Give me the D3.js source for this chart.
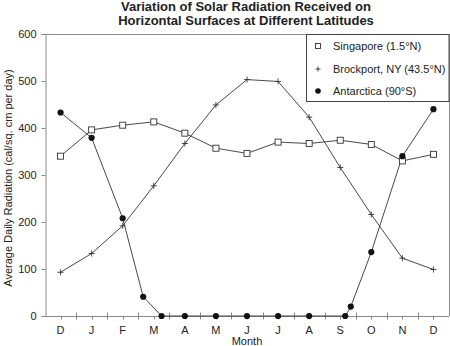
<!DOCTYPE html>
<html><head><meta charset="utf-8">
<script src="https://cdn.jsdelivr.net/npm/d3@7"></script>
<style>body{margin:0;background:#fff}svg{display:block}text{font-family:"Liberation Sans",Arial,sans-serif}</style>
</head><body><svg id="c" width="450" height="346"></svg>
<script>
const months = ["D","J","F","M","A","M","J","J","A","S","O","N","D"];
const yTicks = [0,100,200,300,400,500,600];
const singapore = [340,396,406,413,389,357,346,370,367,374,365,330,344];
const brockport = [93,133,192,277,367,449,503,499,423,316,216,123,99];
const antarcticaX = [0,1,2,2.66,3.25,4,5,6,7,8,9.16,9.34,10,11,12];
const antarcticaY = [433,379,208,41,0,0,0,0,0,0,0,20,136,340,440];
const seriesNames = ["Singapore (1.5°N)","Brockport, NY (43.5°N)","Antarctica (90°S)"];

const svg = d3.select("#c");
const L=45, R=449, T=34, B=316;
const x = d3.scaleLinear().domain([-0.5,12.5]).range([L,R]);
const y = d3.scaleLinear().domain([0,600]).range([B,T]);
const axisCol="#8a8a8a", ink="#333", txt="#222";

// title
svg.append("text").attr("x",246).attr("y",10.5).attr("text-anchor","middle")
  .attr("font-size",13).attr("font-weight","bold").attr("fill",txt)
  .text("Variation of Solar Radiation Received on");
svg.append("text").attr("x",246).attr("y",24.5).attr("text-anchor","middle")
  .attr("font-size",13).attr("font-weight","bold").attr("fill",txt)
  .text("Horizontal Surfaces at Different Latitudes");

// frame top/right
svg.append("path").attr("d",`M${L},${T+0.5}H${R+0.5}V${B}`).attr("fill","none").attr("stroke",axisCol).attr("stroke-width",1);

// y axis
const ya = d3.axisLeft(y).tickValues(yTicks).tickSize(4).tickPadding(5);
const gy = svg.append("g").attr("transform",`translate(${L+0.5},0)`).call(ya);
gy.select(".domain").attr("stroke",axisCol);
gy.selectAll(".tick line").attr("stroke",axisCol);
gy.selectAll(".tick text").attr("font-size",11).attr("fill",txt).style("font-family","Liberation Sans, Arial, sans-serif");

// x axis
const gx = svg.append("g").attr("transform",`translate(0,${B+0.5})`);
gx.append("line").attr("x1",L).attr("x2",R).attr("stroke",axisCol);
const bounds = d3.range(0.5,12,1);
gx.selectAll(".bt").data(bounds).join("line").attr("class","bt")
  .attr("x1",d=>Math.round(x(d))+0.5).attr("x2",d=>Math.round(x(d))+0.5).attr("y1",-4).attr("y2",3).attr("stroke",axisCol);
gx.selectAll(".mt").data(months).join("line").attr("class","mt")
  .attr("x1",(d,i)=>Math.round(x(i))+0.5).attr("x2",(d,i)=>Math.round(x(i))+0.5).attr("y1",0).attr("y2",3).attr("stroke",axisCol);
gx.selectAll(".ml").data(months).join("text").attr("class","ml")
  .attr("x",(d,i)=>x(i)).attr("y",17.5).attr("text-anchor","middle").attr("font-size",11).attr("fill",txt).text(d=>d);

// axis titles
svg.append("text").attr("x",247).attr("y",345).attr("text-anchor","middle").attr("font-size",11).attr("fill",txt).text("Month");
svg.append("text").attr("transform","translate(12,178) rotate(-90)").attr("text-anchor","middle").attr("font-size",11).attr("fill",txt)
  .text("Average Daily Radiation (cal/sq. cm per day)");

// lines
const line = d3.line().x(d=>x(d[0])).y(d=>y(d[1]));
const sData = singapore.map((v,i)=>[i,v]);
const bData = brockport.map((v,i)=>[i,v]);
const aData = antarcticaY.map((v,i)=>[antarcticaX[i],v]);
[sData,bData,aData].forEach(d=>svg.append("path").attr("d",line(d)).attr("fill","none").attr("stroke",ink).attr("stroke-width",0.9));

// markers
function square(g,cx,cy,s){g.append("rect").attr("x",cx-s/2).attr("y",cy-s/2).attr("width",s).attr("height",s).attr("fill","#fff").attr("stroke",ink).attr("stroke-width",0.9);}
function plus(g,cx,cy,s){g.append("path").attr("d",`M${cx-s/2},${cy}H${cx+s/2}M${cx},${cy-s/2}V${cy+s/2}`).attr("stroke",ink).attr("stroke-width",0.9);}
function dot(g,cx,cy,r){g.append("circle").attr("cx",cx).attr("cy",cy).attr("r",r).attr("fill","#111");}
const gm = svg.append("g");
sData.forEach(d=>square(gm,x(d[0]),y(d[1]),6));
bData.forEach(d=>plus(gm,x(d[0]),y(d[1]),6));
aData.forEach(d=>dot(gm,x(d[0]),y(d[1]),3.1));

// legend
const lg = svg.append("g");
lg.append("rect").attr("x",306.5).attr("y",34.5).attr("width",142.5).attr("height",67).attr("fill","#fff").attr("stroke","#444");
const ly = [46,69,91];
square(lg,318,ly[0],5);
plus(lg,318,ly[1],5);
dot(lg,318,ly[2],2.8);
lg.selectAll(".lt").data(seriesNames).join("text").attr("class","lt")
  .attr("x",333).attr("y",(d,i)=>ly[i]+4).attr("font-size",11).attr("fill",txt).text(d=>d);
</script></body></html>
